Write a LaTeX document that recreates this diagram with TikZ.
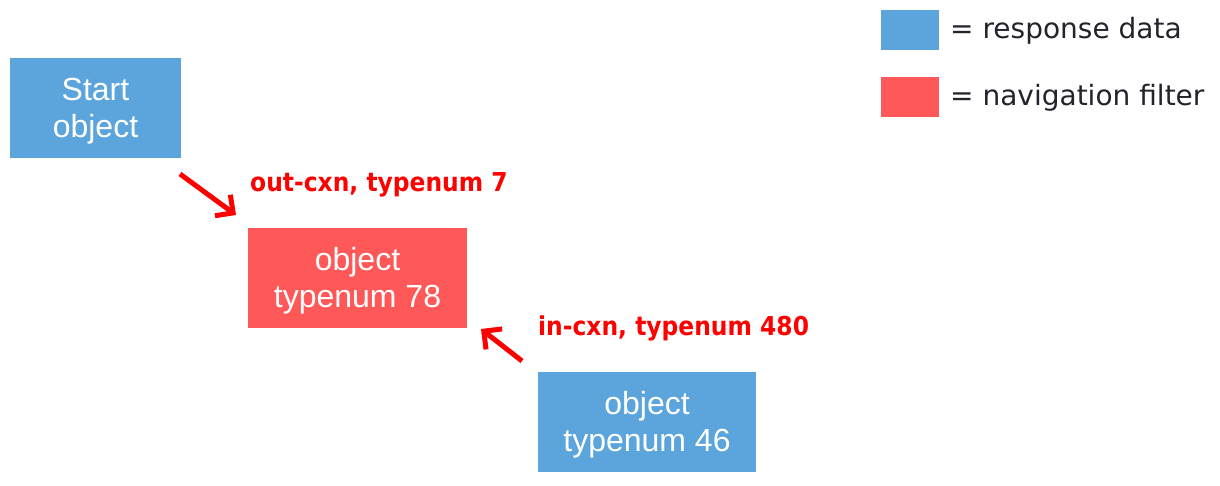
\documentclass[tikz,border=0pt]{standalone}
\usepackage{fontspec}
\setmainfont{Liberation Sans}
\newfontfamily\legendfont{DejaVu Sans}
\newfontfamily\labelfont[FakeStretch=0.9]{DejaVu Sans Bold}
\usetikzlibrary{arrows.meta}
\definecolor{boxblue}{RGB}{91,165,220}
\definecolor{boxred}{RGB}{255,88,88}
\definecolor{lblred}{RGB}{255,0,0}
\definecolor{legtext}{RGB}{35,35,45}
\tikzset{
  databox/.style={fill=boxblue, draw=none, minimum width=#1, minimum height=100pt, inner sep=0pt,
    text=white, align=center, font=\fontsize{32}{37}\selectfont},
  filterbox/.style={fill=boxred, draw=none, minimum width=#1, minimum height=100pt, inner sep=0pt,
    text=white, align=center, font=\fontsize{32}{37}\selectfont},
  boxtext/.style={text=white, align=center, inner sep=0pt, font=\fontsize{32}{37}\selectfont},
  legbox/.style={fill=#1, draw=none, minimum width=58pt, minimum height=40pt, inner sep=0pt},
  legtxt/.style={anchor=west, text=legtext, inner sep=0pt, font=\legendfont\fontsize{28}{30}\selectfont},
  edgelbl/.style={anchor=west, text=lblred, inner sep=0pt, font=\labelfont\fontsize{26}{28}\selectfont},
  redarrow/.style={draw=lblred, line width=5pt, -{Straight Barb[length=13pt,width=26pt,line width=5pt]}}
}
\begin{document}
\begin{tikzpicture}[x=1pt,y=-1pt]
\useasboundingbox (0,0) rectangle (1220,485);
\node[databox=171pt] (start) at (95.5,108) {};
\node[filterbox=219pt] (t78) at (357.5,278) {};
\node[databox=218pt] (t46) at (647,421.5) {};
\node[boxtext] (startt) at (95.5,111) {Start\\object};
\node[boxtext] (t78t) at (357.5,281) {object\\typenum 78};
\node[boxtext] (t46t) at (647,424.5) {object\\typenum 46};
\coordinate (a1s) at (180,174);
\coordinate (a1e) at (236,215);
\coordinate (a2s) at (522,361);
\coordinate (a2e) at (481,329);
\draw[redarrow] (a1s) -- (a1e);
\draw[redarrow] (a2s) -- (a2e);
\node[edgelbl] (l1) at (250,185) {out-cxn, typenum 7};
\node[edgelbl] (l2) at (538,328) {in-cxn, typenum 480};
\node[legbox=boxblue] (lb) at (910,30) {};
\node[legbox=boxred] (lr) at (910,97) {};
\node[legtxt] (tb) at (950,31) {= response data};
\node[legtxt] (tr) at (950,98) {= navigation filter};
\end{tikzpicture}
\end{document}
